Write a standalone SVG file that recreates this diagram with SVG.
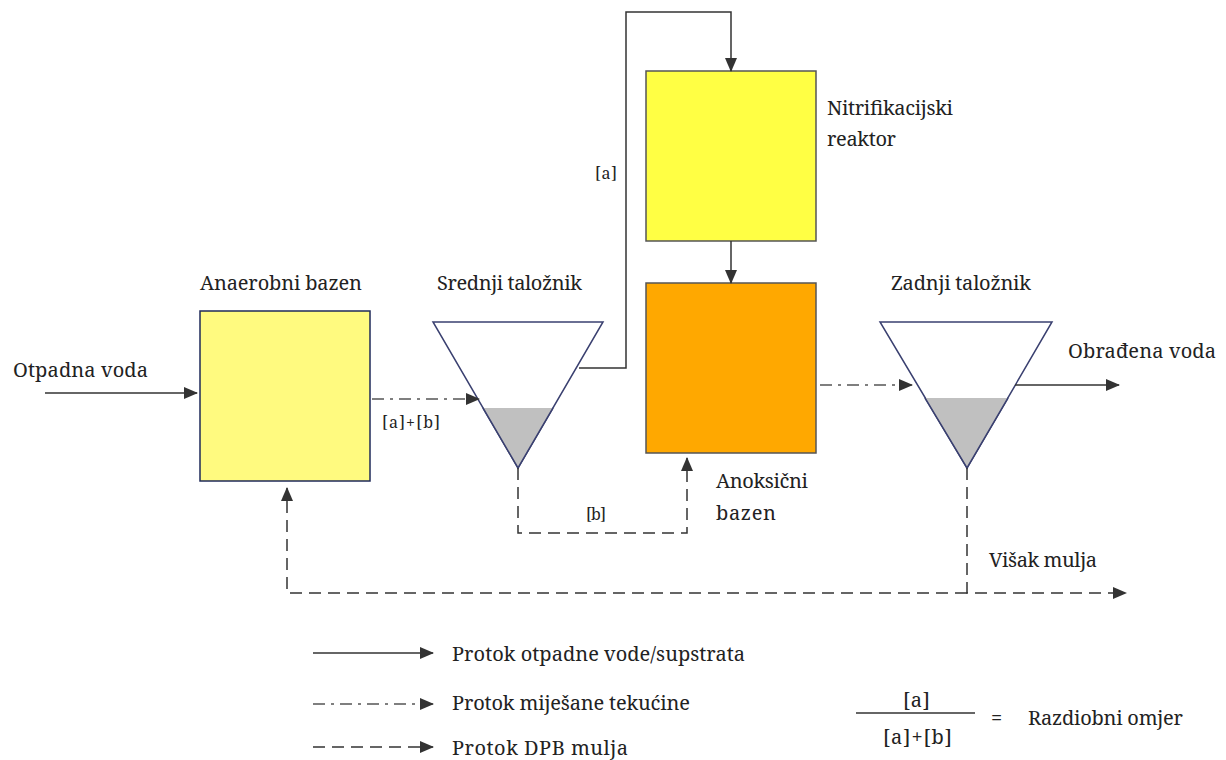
<svg xmlns="http://www.w3.org/2000/svg" width="1226" height="760" viewBox="0 0 1226 760">
<defs>
<marker id="ah" markerUnits="userSpaceOnUse" markerWidth="14" markerHeight="12" refX="13" refY="6" orient="auto">
<path d="M0,0 L14,6 L0,12 Z" fill="#333"/>
</marker>
<style>
text{font-family:'Noto Serif','DejaVu Serif',serif;font-size:20px;fill:#222}
.s{font-size:16px}
.c{fill:none;stroke:#333;stroke-width:1.5}
.dd{stroke-dasharray:12 6 3 6;stroke:#555}
.da{stroke-dasharray:12 7}
.tri{fill:#fff;stroke:#3a4070;stroke-width:1.5}
.sl{fill:#c0c0c0;stroke:none}
</style>
</defs>
<rect width="1226" height="760" fill="#fff"/>

<g id="anaerobni">
<rect x="200" y="311" width="170" height="170" fill="#fffa7f" stroke="#1f2a5a" stroke-width="1.5"/>
<text x="200" y="290" textLength="162" lengthAdjust="spacing">Anaerobni bazen</text>
</g>

<g id="srednji">
<polygon class="tri" points="433,322 603,322 518,468"/>
<polygon class="sl" points="483,408 553,408 518,468"/>
<polyline points="483,408 518,468 553,408" fill="none" stroke="#3a4070" stroke-width="1.5"/>
<text x="437" y="290" textLength="145" lengthAdjust="spacing">Srednji taložnik</text>
</g>

<g id="nitrifikacijski">
<rect x="646" y="71" width="170" height="170" fill="#ffff44" stroke="#555" stroke-width="1.5"/>
<text x="827" y="115" textLength="126" lengthAdjust="spacing">Nitrifikacijski</text>
<text x="827" y="146" textLength="69" lengthAdjust="spacing">reaktor</text>
</g>

<g id="anoksicni">
<rect x="646" y="283" width="170" height="170" fill="#ffa800" stroke="#555" stroke-width="1.5"/>
<text x="716" y="488" textLength="92" lengthAdjust="spacing">Anoksični</text>
<text x="716" y="520" textLength="60" lengthAdjust="spacing">bazen</text>
</g>

<g id="zadnji">
<polygon class="tri" points="880,322 1052,322 967,468"/>
<polygon class="sl" points="925,398 1008,398 967,468"/>
<polyline points="925,398 967,468 1008,398" fill="none" stroke="#3a4070" stroke-width="1.5"/>
<text x="891" y="290" textLength="140" lengthAdjust="spacing">Zadnji taložnik</text>
</g>

<g id="connectors">
<path class="c" d="M45,393 H197" marker-end="url(#ah)"/>
<path class="c dd" d="M372,399 H479" marker-end="url(#ah)"/>
<path class="c" d="M579,368 H626 V12 H731 V71" marker-end="url(#ah)"/>
<path class="c" d="M731,241 V283" marker-end="url(#ah)"/>
<path class="c da" d="M518,468 V533 H687 V458" marker-end="url(#ah)"/>
<path class="c dd" d="M820,385 H912" marker-end="url(#ah)"/>
<path class="c" d="M1015,385 H1119" marker-end="url(#ah)"/>
<path class="c da" d="M967,468 V593 H1126" marker-end="url(#ah)"/>
<path class="c da" d="M967,593 H287 V488" marker-end="url(#ah)"/>
</g>

<g id="labels">
<text x="13" y="377" textLength="135" lengthAdjust="spacing">Otpadna voda</text>
<text x="1068" y="358" textLength="148" lengthAdjust="spacing">Obrađena voda</text>
<text x="989" y="567" textLength="108" lengthAdjust="spacing">Višak mulja</text>
<text class="s" x="595" y="179" textLength="22" lengthAdjust="spacing">[a]</text>
<text class="s" x="382" y="428" textLength="58" lengthAdjust="spacing">[a]+[b]</text>
<text class="s" x="586" y="520" textLength="20" lengthAdjust="spacing">[b]</text>
</g>

<g id="legend">
<path class="c" d="M313,653 H433" marker-end="url(#ah)"/>
<path class="c dd" d="M313,704 H433" marker-end="url(#ah)"/>
<path class="c da" d="M313,747 H433" marker-end="url(#ah)"/>
<text x="452" y="661" textLength="293" lengthAdjust="spacing">Protok otpadne vode/supstrata</text>
<text x="452" y="710" textLength="238" lengthAdjust="spacing">Protok miješane tekućine</text>
<text x="452" y="755" textLength="176" lengthAdjust="spacing">Protok DPB mulja</text>
</g>

<g id="omjer">
<text x="903" y="707" textLength="27" lengthAdjust="spacing">[a]</text>
<line x1="856" y1="713" x2="975" y2="713" stroke="#333" stroke-width="1.5"/>
<text x="883" y="744" textLength="69" lengthAdjust="spacing">[a]+[b]</text>
<text x="991" y="725">=</text>
<text x="1028" y="725" textLength="155" lengthAdjust="spacing">Razdiobni omjer</text>
</g>
</svg>
